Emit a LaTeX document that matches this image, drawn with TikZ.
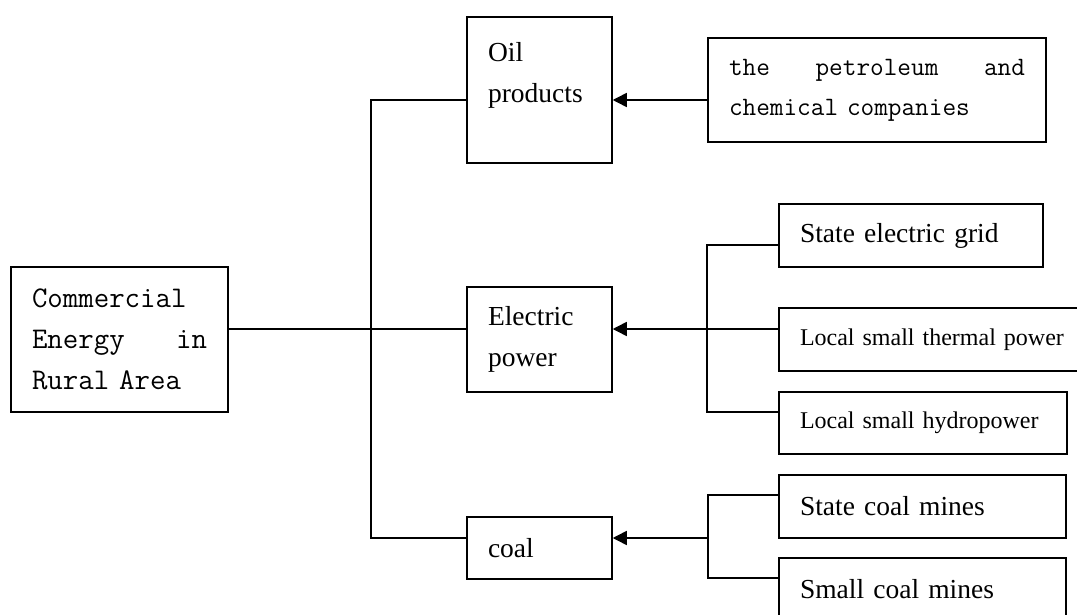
\documentclass[tikz,border=0pt]{standalone}
\usepackage{fontspec}
\setmainfont{Liberation Serif}
\usepackage{tikz}
\usetikzlibrary{arrows.meta}

\begin{document}
\begin{tikzpicture}[x=1pt,y=-1pt,line width=1.5pt,
  box/.style={draw, inner xsep=21pt, inner ysep=0pt, align=left,
    font=\fontsize{27.5pt}{41pt}\selectfont},
  smallbox/.style={box, font=\fontsize{24pt}{30pt}\selectfont},
  monobox/.style={box, font=\ttfamily\fontsize{30pt}{41pt}\selectfont},
  arr/.style={-{Triangle[length=14pt,width=14pt]}}]
\useasboundingbox (0,0) rectangle (1077,615);
%
\node[monobox, text width=175pt, minimum height=145pt] (area) at (119.5,339.5)
  {Commercial\\Energy\hfill in\\Rural Area};
%
\node[box, text width=103pt, minimum height=146pt] (oil) at (539.5,90)
  {Oil\\products\\[-18pt]\strut};
\node[box, text width=103pt, minimum height=105pt] (elec) at (539.5,339.5)
  {Electric\\power};
\node[box, text width=103pt, minimum height=62pt] (coal) at (539.5,548) {coal};
%
\node[monobox, font=\ttfamily\fontsize{26.5pt}{40pt}\selectfont,
  text width=296pt, minimum height=104pt] (petro) at (877,90)
  {the\hfill petroleum\hfill and\\chemical companies};
%
\node[box, text width=222pt, minimum height=63pt] (grid) at (911,235.5)
  {State electric grid};
\node[smallbox, text width=264pt, minimum height=63pt] (thermal) at (932,339.5)
  {Local small thermal power};
\node[smallbox, text width=246pt, minimum height=62pt] (hydro) at (923,423)
  {Local small hydropower};
\node[box, text width=245pt, minimum height=63pt] (statecoal) at (922.5,506.5)
  {State coal mines};
\node[box, text width=245pt, minimum height=63pt] (smallcoal) at (922.5,589.5)
  {Small coal mines};
%
\coordinate (ttop) at (371,100);
\coordinate (tbot) at (371,538);
\coordinate (etop) at (707,245);
\coordinate (ebot) at (707,412);
\coordinate (ctop) at (708,495);
\coordinate (cmid) at (708,538);
\coordinate (cbot) at (708,578);
%
\draw ([yshift=10.5pt]area.east) -- ([yshift=10.5pt]elec.west);
\draw ([yshift=-10pt]oil.west) -- (ttop) -- (tbot) -- ([yshift=10pt]coal.west);
\draw[arr] ([yshift=-10pt]petro.west) -- ([yshift=-10pt]oil.east);
%
\draw (grid.west |- etop) -- (etop) -- (ebot) -- (hydro.west |- ebot);
\draw[arr] ([yshift=10.5pt]thermal.west) -- ([yshift=10.5pt]elec.east);
%
\draw (statecoal.west |- ctop) -- (ctop) -- (cbot) -- (smallcoal.west |- cbot);
\draw[arr] (cmid) -- ([yshift=10pt]coal.east);
\end{tikzpicture}
\end{document}
